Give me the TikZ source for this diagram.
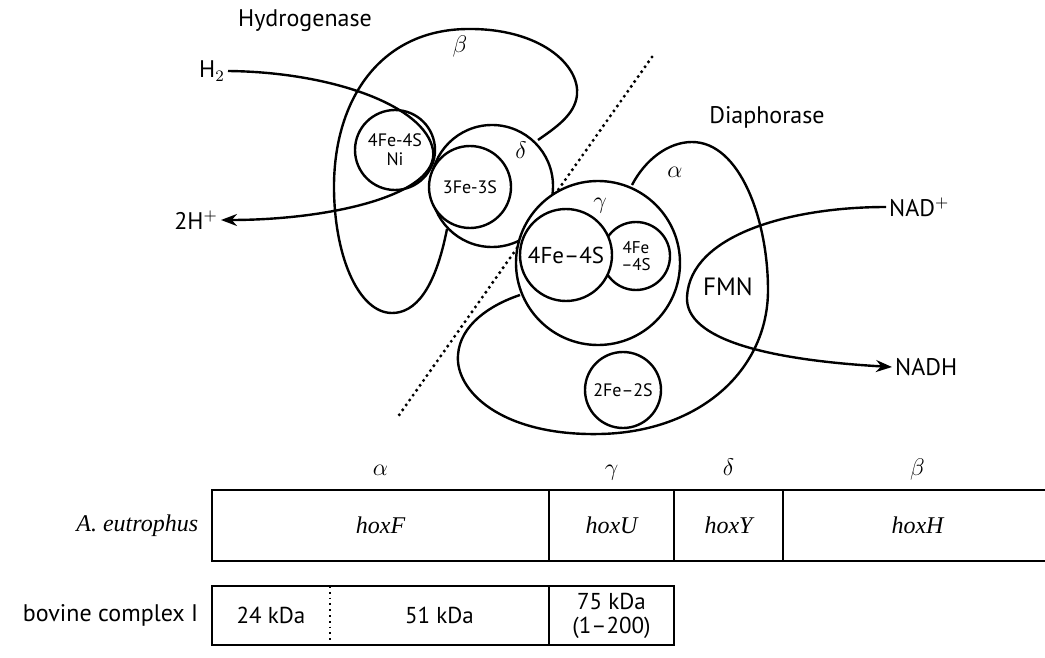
\documentclass[tikz,border=0pt]{standalone}
\usepackage{fontspec}
\setmainfont{PT Sans}
\newfontfamily\hoxfont{Liberation Serif}
\usetikzlibrary{arrows.meta,positioning}

\begin{document}
\begin{tikzpicture}[
  x=0.5pt, y=-0.5pt,
  font=\fontsize{12}{13}\selectfont,
  line width=1.2pt,
  site/.style={draw,circle,fill=white,inner sep=0pt,align=center,
    font=\fontsize{9}{9.5}\selectfont},
  flow/.style={-{Stealth[length=8pt,width=6pt]},line width=1.2pt},
  chem/.style={inner sep=1pt,font=\fontsize{12}{13}\selectfont},
  gk/.style={text height=1.6ex,text depth=0.5ex,inner sep=1pt},
  cell/.style={draw,line width=0.9pt,minimum height=35.5pt,inner sep=0pt,
    outer sep=0pt,anchor=west,font=\hoxfont\itshape\fontsize{12}{13}\selectfont},
  kda/.style={minimum height=29.5pt,inner sep=0pt,outer sep=0pt,anchor=west,
    align=center,font=\fontsize{11.5}{12}\selectfont}
]
\useasboundingbox (0,0) rectangle (1045,658);

% line between hydrogenase and diaphorase
\coordinate (divtop) at (652,57);
\coordinate (divbot) at (397,418);
\draw[line width=1.7pt,line cap=round,dash pattern=on 0pt off 3pt] (divtop) -- (divbot);

% beta and alpha subunits
\draw (447,229) .. controls (435,290) and (415,313) .. (392,313)
  .. controls (360,313) and (335,260) .. (334,190)
  .. controls (333,100) and (380,30) .. (467,29)
  .. controls (540,28) and (580,65) .. (577,95)
  .. controls (575,115) and (555,128) .. (538,140);
\draw (632,185) .. controls (645,160) and (668,142) .. (692,142)
  .. controls (740,142) and (768,220) .. (768,290)
  .. controls (768,370) and (700,432) .. (600,434)
  .. controls (500,436) and (455,390) .. (458,355)
  .. controls (460,325) and (490,305) .. (520,295);

% clusters
\node[site,minimum size=61pt] (delta) at (492,186) {};
\node[site,minimum size=41pt] (fe3) at (470,187) {3Fe-3S};
\node[site,minimum size=40pt] (nife) at (395,150) {4Fe-4S\\Ni};
\node[site,minimum size=82pt] (gamma) at (598,263) {};
\node[site,minimum size=34pt,font=\fontsize{8.5}{8.5}\selectfont] (fe4b) at (636,256) {4Fe\\--4S};
\node[site,minimum size=46pt,font=\fontsize{11.5}{12}\selectfont] (fe4a) at (566,255) {4Fe--4S};
\node[site,minimum size=38pt] (fe2) at (623,390) {2Fe--2S};
\node[font=\fontsize{12.5}{13}\selectfont] (fmn) at (728,287) {FMN};

\node[gk] (lbeta) at (460,47) {$\beta$};
\node[gk] (ldelta) at (521,153) {$\delta$};
\node[gk] (lgamma) at (600,203) {$\gamma$};
\node[gk] (lalpha) at (675,172) {$\alpha$};

\node (hyd) at (305,21) {Hydrogenase};
\node (dia) at (767,117) {Diaphorase};
\node[chem,anchor=east] (h2) at (228,71) {H$_2$};
\node[chem,anchor=east] (hplus) at (221,220) {2H$^+$};
\node[chem,anchor=west] (nad) at (886,207) {NAD$^+$};
\node[chem,anchor=west] (nadh) at (892,367) {NADH};

\draw[flow] (h2.east) .. controls (330,72) and (425,105) .. (433,150)
  .. controls (440,195) and (330,220) .. (hplus.east);
\draw[flow] (nad.west) .. controls (790,207) and (690,235) .. (687,297)
  .. controls (685,340) and (770,360) .. (nadh.west);

% gene map
\node[cell,minimum width=168.5pt] (hoxF) at (212,525.5) {hoxF};
\node[cell,minimum width=62.5pt] (hoxU) at (hoxF.east) {hoxU};
\node[cell,minimum width=54.5pt] (hoxY) at (hoxU.east) {hoxY};
\node[cell,minimum width=134.5pt] (hoxH) at (hoxY.east) {hoxH};
\node[gk,above=3pt of hoxF] (galpha) {$\alpha$};
\node[gk,above=3pt of hoxU] (ggamma) {$\gamma$};
\node[gk,above=3pt of hoxY] (gdelta) {$\delta$};
\node[gk,above=3pt of hoxH] (gbeta) {$\beta$};
\node[left=3pt of hoxF,font=\hoxfont\itshape\fontsize{12}{13}\selectfont] (eutro) {A. eutrophus};

\node[kda,minimum width=59pt] (kda24) at (212,615.5) {24 kDa};
\node[kda,minimum width=109.5pt] (kda51) at (kda24.east) {51 kDa};
\node[kda,minimum width=62.5pt] (kda75) at (kda51.east) {75 kDa\\(1--200)};
\draw[line width=0.9pt] (kda24.north west) rectangle (kda75.south east);
\draw[line width=0.9pt,dotted] (kda24.north east) -- (kda24.south east);
\draw[line width=0.9pt] (kda51.north east) -- (kda51.south east);
\node[left=3pt of kda24] (bovine) {bovine complex I};
\end{tikzpicture}
\end{document}
